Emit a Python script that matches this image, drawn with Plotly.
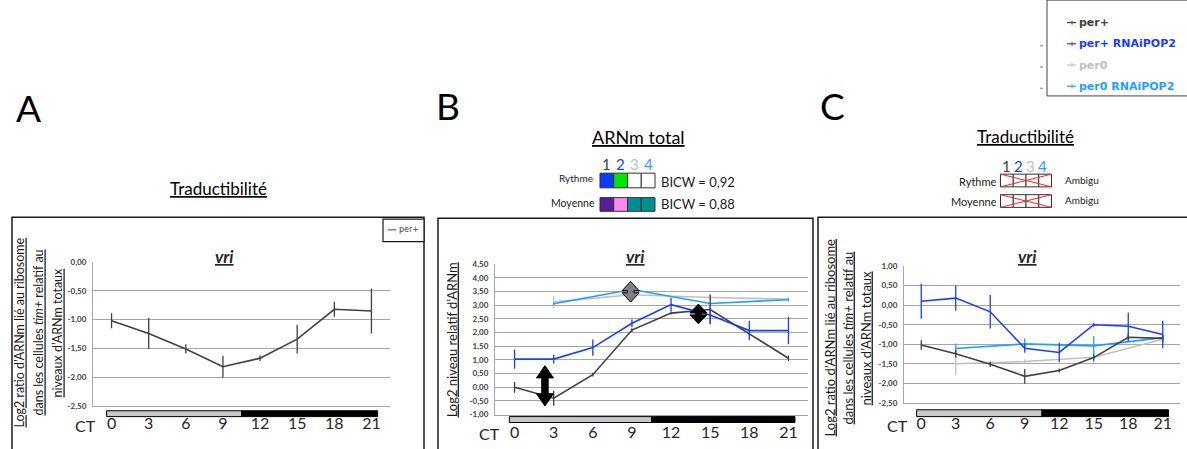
import plotly.graph_objects as go

W, H = 1187, 449

# ---------------- data ----------------
ct = [0, 3, 6, 9, 12, 15, 18, 21]
ct_per0 = [3, 9, 15, 21]
series_names = ["per+", "per+ RNAiPOP2", "per0", "per0 RNAiPOP2"]
series_colors = ["#404040", "#1a3cff", "#c0c0c0", "#1e9fff"]

# Panel A - Traductibilité (per+)
a_per = [-1.02, -1.24, -1.51, -1.82, -1.67, -1.34, -0.82, -0.85]
a_per_err = [0.13, 0.27, 0.08, 0.19, 0.05, 0.25, 0.13, 0.39]

# Panel B - ARNm total
b_per = [0.0, -0.40, 0.46, 2.09, 2.71, 2.84, 1.95, 1.06]
b_per_err = [0.20, 0.27, 0.07, 0.07, 0.05, 0.55, 0.05, 0.10]
b_rnai = [1.03, 1.03, 1.45, 2.34, 3.02, 2.64, 2.07, 2.07]
b_rnai_err = [0.35, 0.16, 0.30, 0.15, 0.25, 0.30, 0.35, 0.50]
b_per0 = [3.12, 3.38, 3.28, 3.22]
b_per0_err = [0.22, 0.12, 0.10, 0.10]
b_per0_rnai = [3.05, 3.57, 3.06, 3.20]
b_per0_rnai_err = [0.04, 0.04, 0.04, 0.04]

# Panel C - Traductibilité
c_per = [-1.02, -1.24, -1.51, -1.82, -1.67, -1.34, -0.82, -0.85]
c_per_err = [0.12, 0.10, 0.07, 0.19, 0.05, 0.08, 0.10, 0.10]
c_rnai = [0.10, 0.18, -0.17, -1.10, -1.21, -0.50, -0.54, -0.75]
c_rnai_err = [0.45, 0.32, 0.43, 0.12, 0.25, 0.05, 0.35, 0.35]
c_per0 = [-1.50, -1.44, -1.33, -0.87]
c_per0_err = [0.28, 0.06, 0.15, 0.06]
c_per0_rnai = [-1.11, -0.99, -1.04, -0.83]
c_per0_rnai_err = [0.13, 0.14, 0.25, 0.05]

# double arrows in panel B (CT position, low value, high value)
arrow_ct = [2.33, 14.1, 8.9]
arrow_lo = [-0.68, 2.32, 3.11]
arrow_hi = [0.79, 3.04, 3.87]
arrow_fill = ["#000000", "#000000", "#808080"]

# model summary boxes in panel B
rythme_colors = ["#0a3cff", "#00e600", "#ffffff", "#ffffff"]
moyenne_colors = ["#5a1a9a", "#ff88f0", "#008f8f", "#008f8f"]
bicw_rythme = "0,92"
bicw_moyenne = "0,88"

FONT = "Lato"


def px(x):
    return x / W


def py(y):
    return 1 - y / H


def ann(x, y, text, size, color="#1a1a1a", xanchor="center", family=FONT, **kw):
    return dict(x=px(x), y=py(y), xref="paper", yref="paper", text=text,
                showarrow=False, xanchor=xanchor, yanchor="middle",
                font=dict(family=family, size=size, color=color), **kw)


fig = go.Figure()


def add_series(xs, ys, errs, color, xa, ya):
    fig.add_trace(go.Scatter(
        x=xs, y=ys, mode="lines", xaxis=xa, yaxis=ya,
        line=dict(color=color, width=1.6),
        error_y=dict(type="data", array=errs, visible=True, width=0,
                     thickness=1.3, color=color),
        hoverinfo="skip", showlegend=False))


# Panel A
add_series(ct, a_per, a_per_err, series_colors[0], "x", "y")
# Panel B
add_series(ct_per0, b_per0, b_per0_err, series_colors[2], "x2", "y2")
add_series(ct_per0, b_per0_rnai, b_per0_rnai_err, series_colors[3], "x2", "y2")
add_series(ct, b_per, b_per_err, series_colors[0], "x2", "y2")
add_series(ct, b_rnai, b_rnai_err, series_colors[1], "x2", "y2")
# Panel C
add_series(ct_per0, c_per0, c_per0_err, series_colors[2], "x3", "y3")
add_series(ct_per0, c_per0_rnai, c_per0_rnai_err, series_colors[3], "x3", "y3")
add_series(ct, c_per, c_per_err, series_colors[0], "x3", "y3")
add_series(ct, c_rnai, c_rnai_err, series_colors[1], "x3", "y3")

# ---------------- axes ----------------
panels = {
    # name: (x0px, x1px, y_top_px, y_bot_px, ylo, yhi, standoff)
    "A": (93, 390, 263, 410, -2.5, 0.0, 3),
    "B": (495, 808, 265, 419, -1.0, 4.5, 3),
    "C": (904, 1180, 267, 407, -2.5, 1.0, 6),
}
axis_ids = {"A": ("xaxis", "yaxis", "y", "x"),
            "B": ("xaxis2", "yaxis2", "y2", "x2"),
            "C": ("xaxis3", "yaxis3", "y3", "x3")}

layout_axes = {}
for key, (x0, x1, yt, yb, lo, hi, so) in panels.items():
    xa, ya, yanchor, xanchor = axis_ids[key]
    n = int(round((hi - lo) / 0.5))
    vals = [lo + 0.5 * i for i in range(n + 1)]
    text = [f"{v:.2f}".replace(".", ",") for v in vals]
    layout_axes[xa] = dict(
        domain=[px(x0), px(x1)], anchor=yanchor, range=[-1.5, 22.5],
        tickvals=ct, ticktext=[str(c) for c in ct], showgrid=False,
        zeroline=False, showline=True, linecolor="#a6a6a6", linewidth=1,
        ticks="", ticklabelstandoff=so,
        tickfont=dict(family=FONT, size=16, color="#262626"), fixedrange=True)
    layout_axes[ya] = dict(
        domain=[py(yb), py(yt)], anchor=xanchor, range=[lo, hi],
        tickvals=vals, ticktext=text, showgrid=True, gridcolor="#a6a6a6",
        gridwidth=1, zeroline=False, showline=True, linecolor="#a6a6a6",
        linewidth=1, ticks="", ticklabelstandoff=4,
        tickfont=dict(family=FONT, size=8, color="#404040", weight="bold"),
        fixedrange=True)

fig.update_layout(**layout_axes)

shapes = []
annotations = []

# panel frames
for (x0, x1, y0) in [(12, 424, 217), (438, 813, 218), (818, 1195, 217)]:
    shapes.append(dict(type="rect", xref="paper", yref="paper",
                       x0=px(x0), x1=px(x1), y0=py(460), y1=py(y0),
                       line=dict(color="#1a1a1a", width=1.5)))

# light/dark bars
bars = {"A": ("x", 415, 421), "B": ("x2", 421, 427), "C": ("x3", 414, 421)}
for key, (xr, yt, yb) in bars.items():
    shapes.append(dict(type="rect", xref=xr, yref="paper", x0=-0.4, x1=10.5,
                       y0=py(yb), y1=py(yt), fillcolor="#c8c8c8",
                       line=dict(color="#000000", width=1)))
    shapes.append(dict(type="rect", xref=xr, yref="paper", x0=10.5, x1=21.5,
                       y0=py(yb), y1=py(yt), fillcolor="#000000",
                       line=dict(color="#000000", width=1)))

# "CT" labels
for (x, y) in [(85, 430), (489, 438), (897, 430)]:
    annotations.append(ann(x, y, "CT", 16, "#262626"))

# vri titles
for (x, y) in [(224, 257), (635, 257), (1027, 257)]:
    annotations.append(ann(x, y, "<b><i><u>vri</u></i></b>", 17, "#262626"))

# panel letters
for (lab, x, y) in [("A", 28, 105), ("B", 448, 103), ("C", 832, 103)]:
    annotations.append(ann(x, y, lab, 37, "#000000"))

# headers
for (t, x, y, s) in [("Traductibilité", 218, 188, 17),
                     ("ARNm total", 638, 135, 18),
                     ("Traductibilité", 1025, 135, 17)]:
    annotations.append(ann(x, y, f"<u>{t}</u>", s, "#000000"))

# y-axis titles
ratio_lines = ["<u>Log2 ratio d’ARNm lié au ribosome</u>",
               "<u>dans les cellules <i>tim+</i> relatif au</u>",
               "<u>niveaux d’ARNm totaux</u>"]
for xs, yc, s in [([20, 39, 58], 335, 12.5), ([830, 848, 866], 341, 13)]:
    for xx, line in zip(xs, ratio_lines):
        annotations.append(ann(xx, yc, line, s, textangle=-90))
annotations.append(ann(452, 343, "<u>Log2 niveau relatif d’ARNm</u>", 13, textangle=-90))

# panel A small legend box
shapes.append(dict(type="rect", xref="paper", yref="paper", x0=px(383), x1=px(424),
                   y0=py(242), y1=py(219), fillcolor="#ffffff",
                   line=dict(color="#1a1a1a", width=1.2)))
shapes.append(dict(type="line", xref="paper", yref="paper", x0=px(388), x1=px(396),
                   y0=py(230), y1=py(230), line=dict(color=series_colors[0], width=1)))
annotations.append(ann(397, 230, "per+", 8, series_colors[0], xanchor="left",
                       family="DejaVu Sans"))

# top-right legend
shapes.append(dict(type="rect", xref="paper", yref="paper", x0=px(1047), x1=px(1200),
                   y0=py(93), y1=py(-5), line=dict(color="#444444", width=1)))
for i, (name, col) in enumerate(zip(series_names, series_colors)):
    yy = 18 + 21.7 * i
    shapes.append(dict(type="line", xref="paper", yref="paper", x0=px(1067),
                       x1=px(1076), y0=py(yy), y1=py(yy), line=dict(color=col, width=1.2)))
    shapes.append(dict(type="line", xref="paper", yref="paper", x0=px(1072),
                       x1=px(1072), y0=py(yy - 2), y1=py(yy + 2),
                       line=dict(color=col, width=1)))
    annotations.append(ann(1077, yy, f"<b>{name}</b>", 11, col, xanchor="left",
                           family="DejaVu Sans"))
    if i > 0:
        shapes.append(dict(type="line", xref="paper", yref="paper", x0=px(1040),
                           x1=px(1043), y0=py(yy + 2), y1=py(yy + 2),
                           line=dict(color="#777777", width=1)))

# panel B model summary boxes
num_x_B = [607, 620.6, 634.4, 648]
for i, col in enumerate(series_colors):
    annotations.append(ann(num_x_B[i], 163, str(i + 1), 15, col))
cell_w = 13.75
for row_colors, (yt, yb) in [(rythme_colors, (172, 187)), (moyenne_colors, (197, 211))]:
    for i, col in enumerate(row_colors):
        shapes.append(dict(type="rect", xref="paper", yref="paper",
                           x0=px(600 + i * cell_w), x1=px(600 + (i + 1) * cell_w),
                           y0=py(yb), y1=py(yt), fillcolor=col,
                           line=dict(color="#333333", width=1)))
annotations.append(ann(595, 177, "Rythme", 10, xanchor="right"))
annotations.append(ann(597, 202, "Moyenne", 10.5, xanchor="right"))
annotations.append(ann(659, 181, f"BICW = {bicw_rythme}", 13, xanchor="left"))
annotations.append(ann(659, 204, f"BICW = {bicw_moyenne}", 13, xanchor="left"))

# panel C crossed boxes
num_x_C = [1007, 1018.5, 1030, 1042]
for i, col in enumerate(series_colors):
    annotations.append(ann(num_x_C[i], 165, str(i + 1), 15, col))
cw = 12.75
for (yt, yb) in [(173, 186), (194, 207)]:
    for i in range(4):
        shapes.append(dict(type="rect", xref="paper", yref="paper",
                           x0=px(1000.5 + i * cw), x1=px(1000.5 + (i + 1) * cw),
                           y0=py(yb), y1=py(yt), fillcolor="#ffffff",
                           line=dict(color="#333333", width=1)))
    shapes.append(dict(type="line", xref="paper", yref="paper", x0=px(1000.5),
                       x1=px(1051.5), y0=py(yt), y1=py(yb), line=dict(color="#ff2020", width=1)))
    shapes.append(dict(type="line", xref="paper", yref="paper", x0=px(1000.5),
                       x1=px(1051.5), y0=py(yb), y1=py(yt), line=dict(color="#ff2020", width=1)))
for (t, y) in [("Rythme", 181), ("Moyenne", 201)]:
    annotations.append(ann(999, y, t, 11, xanchor="right"))
    annotations.append(ann(1063, y - 2, "Ambigu", 10, xanchor="left"))

# double arrows in panel B (built in data space of x2/y2)
bx0, bx1, byt, byb, blo, bhi, _ = panels["B"]
px_per_ct = (bx1 - bx0) / 24.0
px_per_val = (byb - byt) / (bhi - blo)
for xc, lo, hi, fc in zip(arrow_ct, arrow_lo, arrow_hi, arrow_fill):
    hw = 8.5 / px_per_ct
    sw = 3.2 / px_per_ct
    hpx = (hi - lo) * px_per_val
    hl = min(12.5, 0.45 * hpx) / px_per_val
    xs = [xc, xc + hw, xc + sw, xc + sw, xc + hw, xc, xc - hw, xc - sw, xc - sw, xc - hw, xc]
    ys = [hi, hi - hl, hi - hl, lo + hl, lo + hl, lo, lo + hl, lo + hl, hi - hl, hi - hl, hi]
    fig.add_trace(go.Scatter(x=xs, y=ys, xaxis="x2", yaxis="y2", mode="lines",
                             fill="toself", fillcolor=fc,
                             line=dict(color="#000000", width=1),
                             hoverinfo="skip", showlegend=False))

fig.update_layout(
    width=W, height=H, margin=dict(l=0, r=0, t=0, b=0),
    paper_bgcolor="#ffffff", plot_bgcolor="#ffffff", showlegend=False,
    shapes=shapes, annotations=annotations,
)

fig.write_html("out.html", config={"displayModeBar": False},
               post_script="document.body.style.margin='0px';")
